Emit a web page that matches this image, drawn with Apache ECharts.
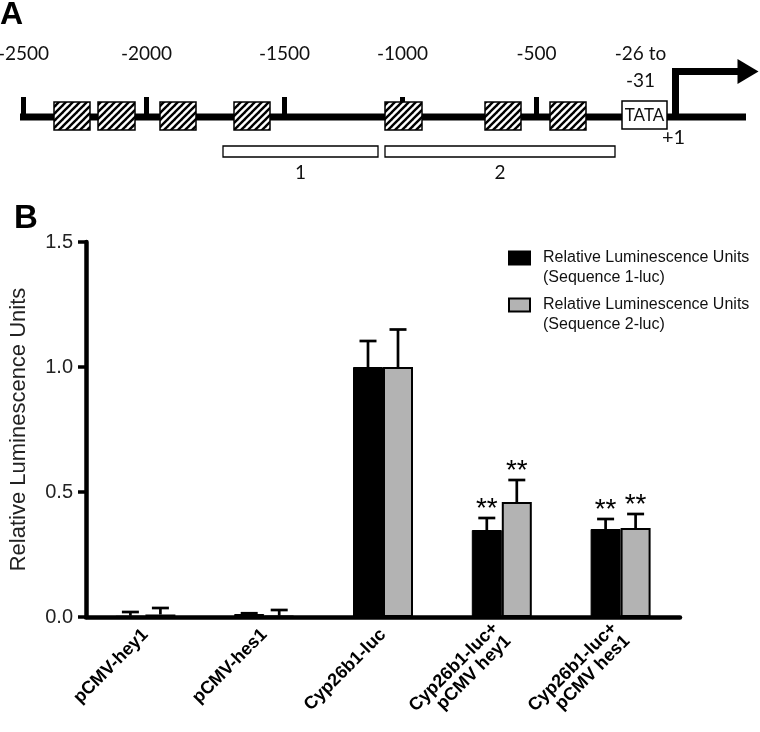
<!DOCTYPE html>
<html><head><meta charset="utf-8">
<script src="https://cdn.jsdelivr.net/npm/echarts@6/dist/echarts.min.js"></script>
<style>html,body{margin:0;padding:0;background:#fff}#c{width:760px;height:732px}</style>
</head><body><div id="c"></div>
<script>
// ---------- Panel B data ----------
const categories = ['pCMV-hey1', 'pCMV-hes1', 'Cyp26b1-luc', 'Cyp26b1-luc+\npCMV hey1', 'Cyp26b1-luc+\npCMV hes1'];
const seriesNames = ['Relative Luminescence Units\n(Sequence 1-luc)', 'Relative Luminescence Units\n(Sequence 2-luc)'];
const seq1Values = [0.005, 0.012, 1.0, 0.348, 0.352];
const seq1Errors = [0.015, 0.003, 0.104, 0.048, 0.040];
const seq2Values = [0.010, 0.005, 1.0, 0.460, 0.356];
const seq2Errors = [0.026, 0.023, 0.150, 0.088, 0.056];
const seq1Sig = ['', '', '', '**', '**'];
const seq2Sig = ['', '', '', '**', '**'];
const yAxisName = 'Relative Luminescence Units';
const yMin = 0, yMax = 1.5, yStep = 0.5;

// ---------- Panel A data (schematic map coordinates) ----------
const dnaExtent = [20, 746];
const mapTickPositions = [23.5, 146.5, 284.5, 402.5, 536.5];
const mapTickLabels = ['-2500', '-2000', '-1500', '-1000', '-500'];
const hatchedBoxes = [[54, 90], [98, 135], [160, 196], [234, 270], [385, 422], [485, 521], [550, 586]];
const tataBox = [622, 667];
const tataText = 'TATA';
const tataPosLabel = '-26 to\n-31';
const tssPosition = 675.5;
const tssLabel = '+1';
const fragments = [[223, 378], [385, 615]];
const fragmentLabels = ['1', '2'];

// hatch pattern
const pc = document.createElement('canvas');
pc.width = 7; pc.height = 7;
const pctx = pc.getContext('2d');
pctx.fillStyle = '#fff'; pctx.fillRect(0, 0, 7, 7);
pctx.strokeStyle = '#000'; pctx.lineWidth = 2.4;
for (const k of [-7, 0, 7]) { pctx.beginPath(); pctx.moveTo(k - 1, 8); pctx.lineTo(k + 8, -1); pctx.stroke(); }
const hatch = { image: pc, repeat: 'repeat' };

const fontA = 'Lato';
const fontB = 'Liberation Sans';

const chart = echarts.init(document.getElementById('c'), null, { renderer: 'canvas' });

function errSeries(name, values, errors, sig, offset) {
  return {
    type: 'custom', name: name + '_err', xAxisIndex: 1, yAxisIndex: 1, z: 5, silent: true,
    data: values.map((v, i) => [i, v, errors[i]]),
    renderItem: (params, api) => {
      const i = api.value(0), v = api.value(1), e = api.value(2);
      const x = api.coord([i, 0])[0] + offset;
      const yb = api.coord([i, v])[1];
      const yt = api.coord([i, v + e])[1];
      const children = [
        { type: 'line', shape: { x1: x, y1: yb, x2: x, y2: yt }, style: { stroke: '#000', lineWidth: 2.7 } },
        { type: 'line', shape: { x1: x - 8.5, y1: yt, x2: x + 8.5, y2: yt }, style: { stroke: '#000', lineWidth: 2.7 } }
      ];
      const s = sig[params.dataIndex];
      if (s) children.push({ type: 'text', style: { text: s, x: x, y: yt - 9, align: 'center', verticalAlign: 'middle', fontSize: 28, fontFamily: fontB, fill: '#000' } });
      return { type: 'group', children };
    }
  };
}

const legendBase = { left: 508, orient: 'vertical', padding: 0, itemWidth: 21, itemHeight: 13, icon: 'rect', selectedMode: false,
  formatter: n => '\n' + n, textStyle: { fontSize: 16, lineHeight: 20, fontFamily: fontB, color: '#111', padding: [0, 0, 0, 8] } };

const option = {
  animation: false,
  backgroundColor: '#fff',
  title: [
    { text: 'A', left: 0, top: -1, padding: 0, textStyle: { fontSize: 32, fontWeight: 'bold', fontFamily: fontB, color: '#000' } },
    { text: 'B', left: 14, top: 202, padding: 0, textStyle: { fontSize: 33, fontWeight: 'bold', fontFamily: fontB, color: '#000' } }
  ],
  legend: [
    Object.assign({}, legendBase, { data: [seriesNames[0]], top: 228 }),
    Object.assign({}, legendBase, { data: [seriesNames[1]], top: 275 })
  ],
  grid: [
    { left: 0, width: 760, top: 17, height: 100 },
    { left: 80, right: 80, top: 242, bottom: 115 }
  ],
  xAxis: [
    { gridIndex: 0, type: 'value', min: 0, max: 760, show: false },
    { gridIndex: 1, type: 'category', data: categories,
      axisLine: { lineStyle: { color: '#000', width: 4.5 } },
      axisTick: { alignWithLabel: true, length: 8, lineStyle: { color: '#000', width: 4.5 } },
      axisLabel: { interval: 0, rotate: 45, margin: 15, fontSize: 18, fontWeight: 'bold', lineHeight: 18, fontFamily: fontB, color: '#000' } }
  ],
  yAxis: [
    { gridIndex: 0, type: 'value', min: 0, max: 100, show: false },
    { gridIndex: 1, type: 'value', min: yMin, max: yMax, interval: yStep,
      name: yAxisName, nameLocation: 'middle', nameGap: 56, nameRotate: 90,
      nameTextStyle: { fontSize: 22, fontFamily: fontB, color: '#222' },
      splitLine: { show: false },
      axisLine: { show: true, lineStyle: { color: '#000', width: 4.5 } },
      axisTick: { show: true, length: 8, lineStyle: { color: '#000', width: 3.5 } },
      axisLabel: { margin: 13, fontSize: 20, fontFamily: fontB, color: '#222', formatter: v => v.toFixed(1) } }
  ],
  series: [
    // ---- Panel A ----
    { type: 'custom', xAxisIndex: 0, yAxisIndex: 0, silent: true, z: 1, data: [dnaExtent],
      renderItem: (p, api) => {
        const a = api.coord([api.value(0), 0]), b = api.coord([api.value(1), 0]);
        return { type: 'line', shape: { x1: a[0], y1: a[1], x2: b[0], y2: b[1] }, style: { stroke: '#000', lineWidth: 7 } };
      } },
    { type: 'custom', xAxisIndex: 0, yAxisIndex: 0, silent: true, z: 2, data: mapTickPositions.map(x => [x, 0]),
      renderItem: (p, api) => {
        const c = api.coord([api.value(0), 0]);
        return { type: 'group', children: [
          { type: 'line', shape: { x1: c[0], y1: c[1], x2: c[0], y2: c[1] - 20 }, style: { stroke: '#000', lineWidth: 5 } },
          { type: 'text', style: { text: mapTickLabels[p.dataIndex], x: c[0], y: c[1] - 63, align: 'center', verticalAlign: 'middle', fontSize: 19, fontFamily: fontA, fill: '#111' } }
        ] };
      } },
    { type: 'custom', xAxisIndex: 0, yAxisIndex: 0, silent: true, z: 3, data: hatchedBoxes,
      renderItem: (p, api) => {
        const a = api.coord([api.value(0), 0]), b = api.coord([api.value(1), 0]);
        return { type: 'rect', shape: { x: a[0], y: a[1] - 15, width: b[0] - a[0], height: 28 }, style: { fill: hatch, stroke: '#000', lineWidth: 1.5 } };
      } },
    { type: 'custom', xAxisIndex: 0, yAxisIndex: 0, silent: true, z: 3, data: [tataBox],
      renderItem: (p, api) => {
        const a = api.coord([api.value(0), 0]), b = api.coord([api.value(1), 0]);
        const cx = (a[0] + b[0]) / 2;
        return { type: 'group', children: [
          { type: 'rect', shape: { x: a[0], y: a[1] - 16, width: b[0] - a[0], height: 28 }, style: { fill: '#fff', stroke: '#000', lineWidth: 1.5 } },
          { type: 'text', style: { text: tataText, x: cx, y: a[1] - 1.5, align: 'center', verticalAlign: 'middle', fontSize: 17, fontFamily: fontA, fill: '#111' } },
          { type: 'text', style: { text: tataPosLabel, x: cx - 4, y: a[1] - 50, align: 'center', verticalAlign: 'middle', fontSize: 19, lineHeight: 27, fontFamily: fontA, fill: '#111' } }
        ] };
      } },
    { type: 'custom', xAxisIndex: 0, yAxisIndex: 0, silent: true, z: 3, data: [[tssPosition, 0]],
      renderItem: (p, api) => {
        const c = api.coord([api.value(0), 0]);
        const x = c[0], y = c[1];
        return { type: 'group', children: [
          { type: 'polyline', shape: { points: [[x, y + 3], [x, y - 45.5], [x + 64, y - 45.5]] }, style: { stroke: '#000', lineWidth: 7, fill: null, lineJoin: 'miter' } },
          { type: 'polygon', shape: { points: [[x + 62, y - 58], [x + 83, y - 45.5], [x + 62, y - 33]] }, style: { fill: '#000' } },
          { type: 'text', style: { text: tssLabel, x: x - 2, y: y + 21, align: 'center', verticalAlign: 'middle', fontSize: 20, fontFamily: fontA, fill: '#111' } }
        ] };
      } },
    { type: 'custom', xAxisIndex: 0, yAxisIndex: 0, silent: true, z: 3, data: fragments,
      renderItem: (p, api) => {
        const a = api.coord([api.value(0), 0]), b = api.coord([api.value(1), 0]);
        return { type: 'group', children: [
          { type: 'rect', shape: { x: a[0], y: a[1] + 29, width: b[0] - a[0], height: 11 }, style: { fill: '#fff', stroke: '#000', lineWidth: 1.3 } },
          { type: 'text', style: { text: fragmentLabels[p.dataIndex], x: (a[0] + b[0]) / 2, y: a[1] + 56, align: 'center', verticalAlign: 'middle', fontSize: 19, fontFamily: fontA, fill: '#111' } }
        ] };
      } },
    // ---- Panel B ----
    { type: 'bar', name: seriesNames[0], xAxisIndex: 1, yAxisIndex: 1, data: seq1Values, barWidth: 30, barGap: '0%',
      itemStyle: { color: '#000', borderColor: '#000', borderWidth: 1 } },
    { type: 'bar', name: seriesNames[1], xAxisIndex: 1, yAxisIndex: 1, data: seq2Values, barWidth: 30, barGap: '0%',
      itemStyle: { color: '#b3b3b3', borderColor: '#000', borderWidth: 2 } },
    errSeries('s1', seq1Values, seq1Errors, seq1Sig, -15),
    errSeries('s2', seq2Values, seq2Errors, seq2Sig, 15)
  ]
};
chart.setOption(option);
</script></body></html>
